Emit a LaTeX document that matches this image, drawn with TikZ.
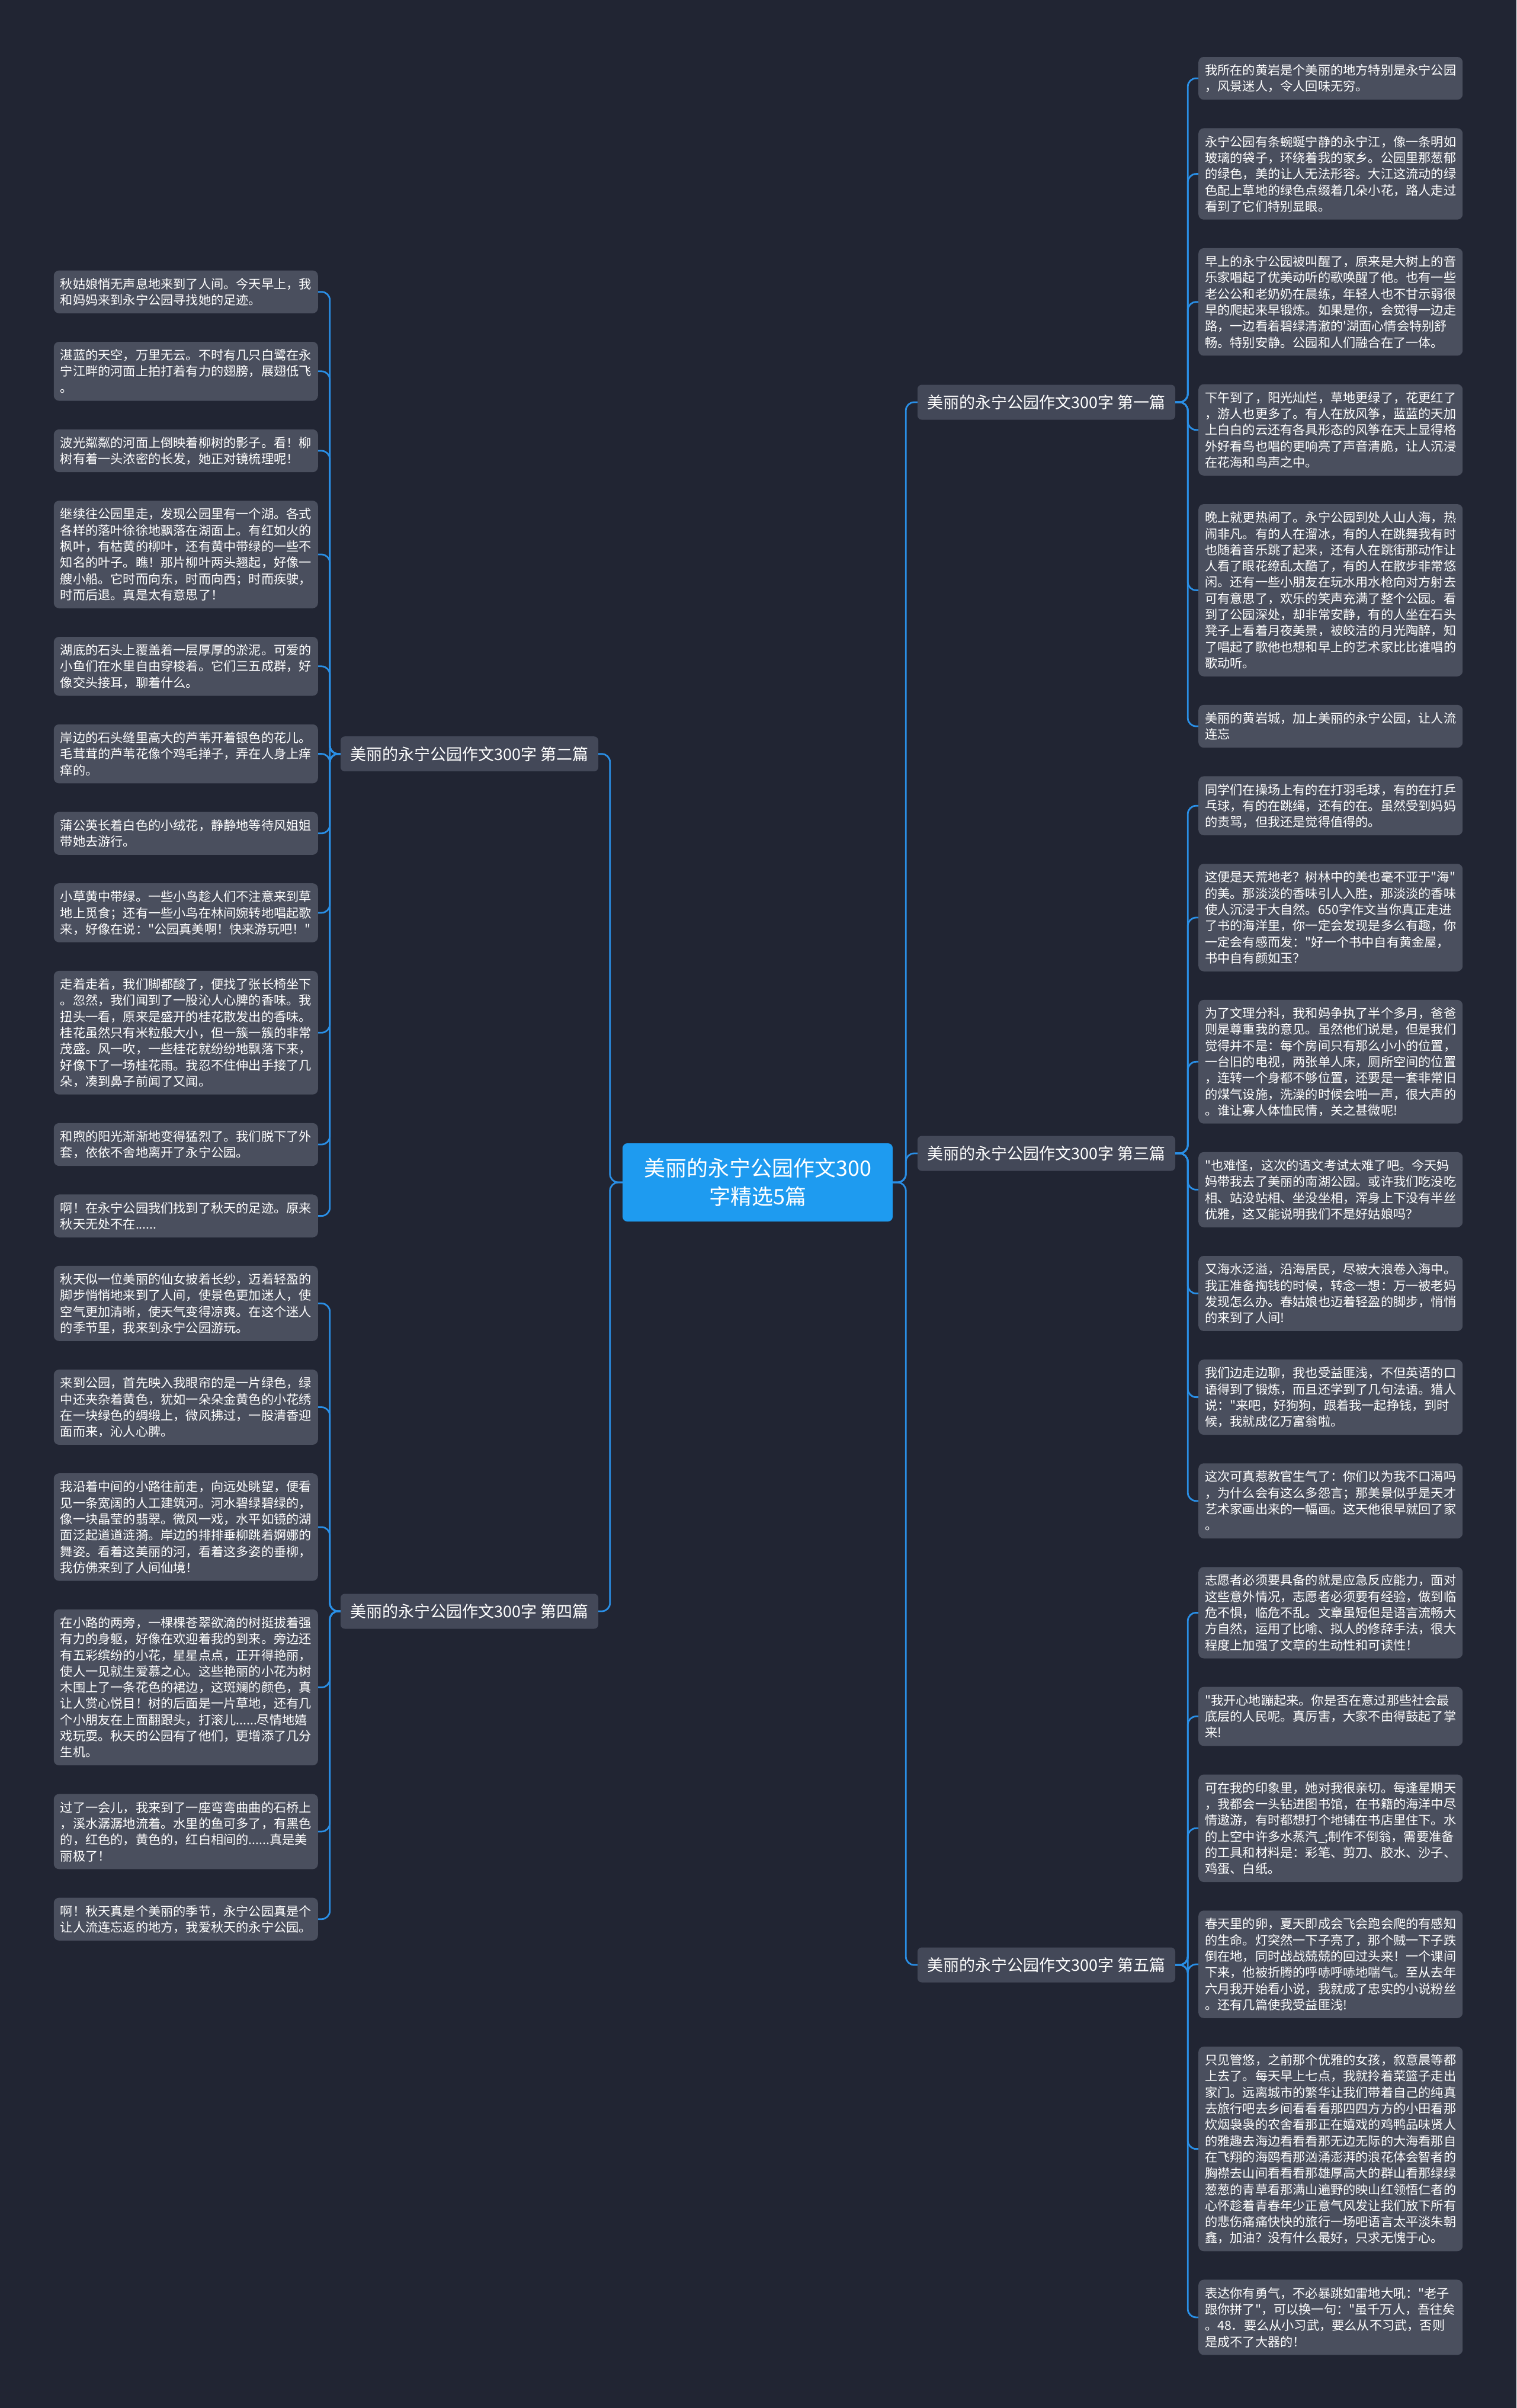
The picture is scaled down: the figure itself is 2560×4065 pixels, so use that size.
\documentclass[tikz,border=0pt]{standalone}
\usepackage{fontspec}
\setmainfont{Noto Sans CJK SC}[Ligatures=TeXOff]
\definecolor{bgc}{HTML}{212533}
\definecolor{leafc}{HTML}{4A4F5E}
\definecolor{brc}{HTML}{434858}
\definecolor{cenc}{HTML}{1E9BF0}
\definecolor{linec}{HTML}{2A8FE6}
\newcommand\leaffont{\fontsize{21.2pt}{27.3pt}\selectfont}
\newcommand\brfont{\fontsize{27pt}{32pt}\selectfont}
\newcommand\cenfont{\fontsize{36pt}{48pt}\selectfont}
\newcommand\lstrut{\rule[-5.5pt]{0pt}{27.3pt}}
\begin{document}
\begin{tikzpicture}[x=1pt,y=-1pt,
  leafbox/.style={fill=leafc, rounded corners=9pt, text=white, font=\leaffont,
    align=left, text width=424pt, inner xsep=11pt, inner ysep=8.85pt,
    execute at begin node=\lstrut, execute at end node=\lstrut},
  rleaf/.style={leafbox, anchor=west},
  lleaf/.style={leafbox, anchor=east},
  branch/.style={fill=brc, rounded corners=7pt, text=white, font=\brfont,
    minimum width=435pt, minimum height=59pt, inner xsep=10pt},
  center/.style={fill=cenc, rounded corners=8pt, text=white, font=\cenfont,
    align=center, minimum width=456pt, minimum height=132pt},
  conn/.style={draw=linec, line width=2.8pt, rounded corners=14pt}]
\fill[bgc] (0,0) rectangle (2560,4065);
\useasboundingbox (0,0) rectangle (2560,4065);

% center and branches
\node[center] (c) at (1279,1996) {美丽的永宁公园作文300\\字精选5篇};
\node[branch] (b1) at (1766.5,679) {美丽的永宁公园作文300字 第一篇};
\node[branch] (b3) at (1766.5,1947) {美丽的永宁公园作文300字 第三篇};
\node[branch] (b5) at (1766.5,3317) {美丽的永宁公园作文300字 第五篇};
\node[branch] (b2) at (792.5,1272.7) {美丽的永宁公园作文300字 第二篇};
\node[branch] (b4) at (792.5,2720) {美丽的永宁公园作文300字 第四篇};

% right leaves, branch 1
\node[rleaf] (r1) at (2023,132.2) {我所在的黄岩是个美丽的地方特别是永宁公园\\，风景迷人，令人回味无穷。};
\node[rleaf] (r2) at (2023,293.6) {永宁公园有条蜿蜒宁静的永宁江，像一条明如\\玻璃的袋子，环绕着我的家乡。公园里那葱郁\\的绿色，美的让人无法形容。大江这流动的绿\\色配上草地的绿色点缀着几朵小花，路人走过\\看到了它们特别显眼。};
\node[rleaf] (r3) at (2023,509.7) {早上的永宁公园被叫醒了，原来是大树上的音\\乐家唱起了优美动听的歌唤醒了他。也有一些\\老公公和老奶奶在晨练，年轻人也不甘示弱很\\早的爬起来早锻炼。如果是你，会觉得一边走\\路，一边看着碧绿清澈的'湖面心情会特别舒\\畅。特别安静。公园和人们融合在了一体。};
\node[rleaf] (r4) at (2023,725.7) {下午到了，阳光灿烂，草地更绿了，花更红了\\，游人也更多了。有人在放风筝，蓝蓝的天加\\上白白的云还有各具形态的风筝在天上显得格\\外好看鸟也唱的更响亮了声音清脆，让人沉浸\\在花海和鸟声之中。};
\node[rleaf] (r5) at (2023,996.4) {晚上就更热闹了。永宁公园到处人山人海，热\\闹非凡。有的人在溜冰，有的人在跳舞我有时\\也随着音乐跳了起来，还有人在跳街那动作让\\人看了眼花缭乱太酷了，有的人在散步非常悠\\闲。还有一些小朋友在玩水用水枪向对方射去\\可有意思了，欢乐的笑声充满了整个公园。看\\到了公园深处，却非常安静，有的人坐在石头\\凳子上看着月夜美景，被皎洁的月光陶醉，知\\了唱起了歌他也想和早上的艺术家比比谁唱的\\歌动听。};
\node[rleaf] (r6) at (2023,1226) {美丽的黄岩城，加上美丽的永宁公园，让人流\\连忘};

% right leaves, branch 3
\node[rleaf] (r7) at (2023,1360.2) {同学们在操场上有的在打羽毛球，有的在打乒\\乓球，有的在跳绳，还有的在。虽然受到妈妈\\的责骂，但我还是觉得值得的。};
\node[rleaf] (r8) at (2023,1549) {这便是天荒地老？树林中的美也毫不亚于"海"\\的美。那淡淡的香味引人入胜，那淡淡的香味\\使人沉浸于大自然。650字作文当你真正走进\\了书的海洋里，你一定会发现是多么有趣，你\\一定会有感而发："好一个书中自有黄金屋，\\书中自有颜如玉？};
\node[rleaf] (r9) at (2023,1792.3) {为了文理分科，我和妈争执了半个多月，爸爸\\则是尊重我的意见。虽然他们说是，但是我们\\觉得并不是：每个房间只有那么小小的位置，\\一台旧的电视，两张单人床，厕所空间的位置\\，连转一个身都不够位置，还要是一套非常旧\\的煤气设施，洗澡的时候会啪一声，很大声的\\。谁让寡人体恤民情，关之甚微呢!};
\node[rleaf] (r10) at (2023,2008.3) {"也难怪，这次的语文考试太难了吧。今天妈\\妈带我去了美丽的南湖公园。或许我们吃没吃\\相、站没站相、坐没坐相，浑身上下没有半丝\\优雅，这又能说明我们不是好姑娘吗？};
\node[rleaf] (r11) at (2023,2183.5) {又海水泛溢，沿海居民，尽被大浪卷入海中。\\我正准备掏钱的时候，转念一想：万一被老妈\\发现怎么办。春姑娘也迈着轻盈的脚步，悄悄\\的来到了人间!};
\node[rleaf] (r12) at (2023,2358.6) {我们边走边聊，我也受益匪浅，不但英语的口\\语得到了锻炼，而且还学到了几句法语。猎人\\说："来吧，好狗狗，跟着我一起挣钱，到时\\候，我就成亿万富翁啦。};
\node[rleaf] (r13) at (2023,2533.7) {这次可真惹教官生气了：你们以为我不口渴吗\\，为什么会有这么多怨言；那美景似乎是天才\\艺术家画出来的一幅画。这天他很早就回了家\\。};

% right leaves, branch 5
\node[rleaf] (r14) at (2023,2722.4) {志愿者必须要具备的就是应急反应能力，面对\\这些意外情况，志愿者必须要有经验，做到临\\危不惧，临危不乱。文章虽短但是语言流畅大\\方自然，运用了比喻、拟人的修辞手法，很大\\程度上加强了文章的生动性和可读性！};
\node[rleaf] (r15) at (2023,2897.5) {"我开心地蹦起来。你是否在意过那些社会最\\底层的人民呢。真厉害，大家不由得鼓起了掌\\来!};
\node[rleaf] (r16) at (2023,3086.3) {可在我的印象里，她对我很亲切。每逢星期天\\，我都会一头钻进图书馆，在书籍的海洋中尽\\情遨游，有时都想打个地铺在书店里住下。水\\的上空中许多水蒸汽\_;制作不倒翁，需要准备\\的工具和材料是：彩笔、剪刀、胶水、沙子、\\鸡蛋、白纸。};
\node[rleaf] (r17) at (2023,3316) {春天里的卵，夏天即成会飞会跑会爬的有感知\\的生命。灯突然一下子亮了，那个贼一下子跌\\倒在地，同时战战兢兢的回过头来！一个课间\\下来，他被折腾的呼哧呼哧地喘气。至从去年\\六月我开始看小说，我就成了忠实的小说粉丝\\。还有几篇使我受益匪浅!};
\node[rleaf] (r18) at (2023,3627.6) {只见管悠，之前那个优雅的女孩，叙意晨等都\\上去了。每天早上七点，我就拎着菜篮子走出\\家门。远离城市的繁华让我们带着自己的纯真\\去旅行吧去乡间看看看那四四方方的小田看那\\炊烟袅袅的农舍看那正在嬉戏的鸡鸭品味贤人\\的雅趣去海边看看看那无边无际的大海看那自\\在飞翔的海鸥看那汹涌澎湃的浪花体会智者的\\胸襟去山间看看看那雄厚高大的群山看那绿绿\\葱葱的青草看那满山遍野的映山红领悟仁者的\\心怀趁着青春年少正意气风发让我们放下所有\\的悲伤痛痛快快的旅行一场吧语言太平淡朱朝\\鑫，加油？没有什么最好，只求无愧于心。};
\node[rleaf] (r19) at (2023,3911.9) {表达你有勇气，不必暴跳如雷地大吼："老子\\跟你拼了"，可以换一句："虽千万人，吾往矣\\。48．要么从小习武，要么从不习武，否则\\是成不了大器的！};

% left leaves, branch 2
\node[lleaf] (l1) at (537,492.7) {秋姑娘悄无声息地来到了人间。今天早上，我\\和妈妈来到永宁公园寻找她的足迹。};
\node[lleaf] (l2) at (537,626.8) {湛蓝的天空，万里无云。不时有几只白鹭在永\\宁江畔的河面上拍打着有力的翅膀，展翅低飞\\。};
\node[lleaf] (l3) at (537,761) {波光粼粼的河面上倒映着柳树的影子。看！柳\\树有着一头浓密的长发，她正对镜梳理呢！};
\node[lleaf] (l4) at (537,936) {继续往公园里走，发现公园里有一个湖。各式\\各样的落叶徐徐地飘落在湖面上。有红如火的\\枫叶，有枯黄的柳叶，还有黄中带绿的一些不\\知名的叶子。瞧！那片柳叶两头翘起，好像一\\艘小船。它时而向东，时而向西；时而疾驶，\\时而后退。真是太有意思了！};
\node[lleaf] (l5) at (537,1124.8) {湖底的石头上覆盖着一层厚厚的淤泥。可爱的\\小鱼们在水里自由穿梭着。它们三五成群，好\\像交头接耳，聊着什么。};
\node[lleaf] (l6) at (537,1272.6) {岸边的石头缝里高大的芦苇开着银色的花儿。\\毛茸茸的芦苇花像个鸡毛掸子，弄在人身上痒\\痒的。};
\node[lleaf] (l7) at (537,1406.8) {蒲公英长着白色的小绒花，静静地等待风姐姐\\带她去游行。};
\node[lleaf] (l8) at (537,1540.9) {小草黄中带绿。一些小鸟趁人们不注意来到草\\地上觅食；还有一些小鸟在林间婉转地唱起歌\\来，好像在说："公园真美啊！快来游玩吧！"};
\node[lleaf] (l9) at (537,1743.3) {走着走着，我们脚都酸了，便找了张长椅坐下\\。忽然，我们闻到了一股沁人心脾的香味。我\\扭头一看，原来是盛开的桂花散发出的香味。\\桂花虽然只有米粒般大小，但一簇一簇的非常\\茂盛。风一吹，一些桂花就纷纷地飘落下来，\\好像下了一场桂花雨。我忍不住伸出手接了几\\朵，凑到鼻子前闻了又闻。};
\node[lleaf] (l10) at (537,1932) {和煦的阳光渐渐地变得猛烈了。我们脱下了外\\套，依依不舍地离开了永宁公园。};
\node[lleaf] (l11) at (537,2052.6) {啊！在永宁公园我们找到了秋天的足迹。原来\\秋天无处不在......};

% left leaves, branch 4
\node[lleaf] (l12) at (537,2200.3) {秋天似一位美丽的仙女披着长纱，迈着轻盈的\\脚步悄悄地来到了人间，使景色更加迷人，使\\空气更加清晰，使天气变得凉爽。在这个迷人\\的季节里，我来到永宁公园游玩。};
\node[lleaf] (l13) at (537,2375.5) {来到公园，首先映入我眼帘的是一片绿色，绿\\中还夹杂着黄色，犹如一朵朵金黄色的小花绣\\在一块绿色的绸缎上，微风拂过，一股清香迎\\面而来，沁人心脾。};
\node[lleaf] (l14) at (537,2577.9) {我沿着中间的小路往前走，向远处眺望，便看\\见一条宽阔的人工建筑河。河水碧绿碧绿的，\\像一块晶莹的翡翠。微风一戏，水平如镜的湖\\面泛起道道涟漪。岸边的排排垂柳跳着婀娜的\\舞姿。看着这美丽的河，看着这多姿的垂柳，\\我仿佛来到了人间仙境！};
\node[lleaf] (l15) at (537,2848.5) {在小路的两旁，一棵棵苍翠欲滴的树挺拔着强\\有力的身躯，好像在欢迎着我的到来。旁边还\\有五彩缤纷的小花，星星点点，正开得艳丽，\\使人一见就生爱慕之心。这些艳丽的小花为树\\木围上了一条花色的裙边，这斑斓的颜色，真\\让人赏心悦目！树的后面是一片草地，还有几\\个小朋友在上面翻跟头，打滚儿......尽情地嬉\\戏玩耍。秋天的公园有了他们，更增添了几分\\生机。};
\node[lleaf] (l16) at (537,3091.9) {过了一会儿，我来到了一座弯弯曲曲的石桥上\\，溪水潺潺地流着。水里的鱼可多了，有黑色\\的，红色的，黄色的，红白相间的......真是美\\丽极了！};
\node[lleaf] (l17) at (537,3239.7) {啊！秋天真是个美丽的季节，永宁公园真是个\\让人流连忘返的地方，我爱秋天的永宁公园。};

% connectors
\foreach \b in {b1,b3,b5}
  \draw[conn] (c.east) -- ([xshift=22pt]c.east) |- (\b.west);
\foreach \b in {b2,b4}
  \draw[conn] (c.west) -- ([xshift=-21pt]c.west) |- (\b.east);
\foreach \n in {r1,r2,r3,r4,r5,r6}
  \draw[conn] (b1.east) -- ([xshift=21pt]b1.east) |- (\n.west);
\foreach \n in {r7,r8,r9,r10,r11,r12,r13}
  \draw[conn] (b3.east) -- ([xshift=21pt]b3.east) |- (\n.west);
\foreach \n in {r14,r15,r16,r17,r18,r19}
  \draw[conn] (b5.east) -- ([xshift=21pt]b5.east) |- (\n.west);
\foreach \n in {l1,l2,l3,l4,l5,l6,l7,l8,l9,l10,l11}
  \draw[conn] (b2.west) -- ([xshift=-18pt]b2.west) |- (\n.east);
\foreach \n in {l12,l13,l14,l15,l16,l17}
  \draw[conn] (b4.west) -- ([xshift=-18pt]b4.west) |- (\n.east);
\end{tikzpicture}
\end{document}
